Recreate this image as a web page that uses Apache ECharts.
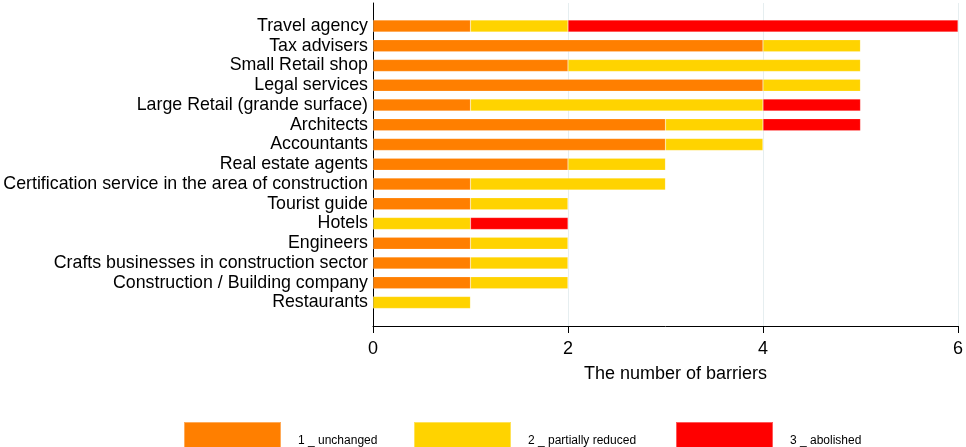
<!DOCTYPE html>
<html>
<head>
<meta charset="utf-8">
<script src="https://cdn.jsdelivr.net/npm/echarts@6/dist/echarts.min.js"></script>
<style>
html,body{margin:0;padding:0;background:#fff;}
#c{width:966px;height:447px;}
</style>
</head>
<body>
<div id="c"></div>
<script>
const categories = ["Travel agency","Tax advisers","Small Retail shop","Legal services","Large Retail (grande surface)","Architects","Accountants","Real estate agents","Certification service in the area of construction","Tourist guide","Hotels","Engineers","Crafts businesses in construction sector","Construction / Building company","Restaurants"];
const unchanged        = [1,4,2,4,1,3,3,2,1,1,0,1,1,1,0];
const partiallyReduced = [1,1,3,1,3,1,1,1,2,1,1,1,1,1,1];
const abolished        = [4,0,0,0,1,1,0,0,0,0,1,0,0,0,0];
const seriesNames = ["1 _ unchanged","2 _ partially reduced","3 _ abolished"];
const xTicks = [0,2,4,6];

const FONT = "Liberation Sans, Arial, sans-serif";
const colors = ["#ff7f00","#ffd300","#ff0000"];
const chart = echarts.init(document.getElementById('c'), null, {renderer:'canvas'});
const mk = (name, data, i) => ({
  name, type:'bar', stack:'s', xAxisIndex:0, yAxisIndex:0, data,
  barWidth:12,
  itemStyle:{color:colors[i], borderColor:'rgba(255,255,255,0.35)', borderWidth:0.5},
  emphasis:{disabled:true}
});
const legendPos = [183, 413, 675];
chart.setOption({
  animation:false,
  textStyle:{fontFamily:FONT},
  grid:[
    {left:373, right:8, top:16.1, height:296.25, containLabel:false},
    {left:373, right:8, top:3, height:323, containLabel:false}
  ],
  xAxis:[
    {gridIndex:0, type:'value', min:0, max:6, interval:2, show:false},
    {gridIndex:1, type:'value', min:xTicks[0], max:xTicks[xTicks.length-1], interval:2,
     axisLine:{show:true, lineStyle:{color:'#000', width:1}},
     axisTick:{show:true, length:7, lineStyle:{color:'#000'}},
     axisLabel:{fontSize:18, color:'#000', margin:14, fontFamily:FONT},
     splitLine:{show:true, lineStyle:{color:'#e6eef0', width:1}},
     name:'The number of barriers', nameLocation:'middle', nameGap:39,
     nameTextStyle:{fontSize:18, color:'#000', fontFamily:FONT, padding:[0,0,0,20]}
    }
  ],
  yAxis:[
    {gridIndex:0, type:'category', data:categories, inverse:true,
     axisLine:{show:false}, axisTick:{show:false},
     axisLabel:{fontSize:17.8, color:'#000', margin:5, interval:0, fontFamily:FONT},
     splitLine:{show:false}
    },
    {gridIndex:1, type:'value', min:0, max:1,
     axisLine:{show:true, lineStyle:{color:'#000', width:1}},
     axisTick:{show:false}, axisLabel:{show:false}, splitLine:{show:false}
    }
  ],
  legend: seriesNames.map((n,i)=>({
    data:[n], left:legendPos[i], top:421, padding:0,
    itemWidth:97, itemHeight:38, icon:'rect', selectedMode:false,
    textStyle:{fontSize:12, color:'#000', fontFamily:FONT, padding:[0,0,0,12]}
  })),
  series:[
    mk(seriesNames[0], unchanged, 0),
    mk(seriesNames[1], partiallyReduced, 1),
    mk(seriesNames[2], abolished, 2)
  ]
});
</script>
</body>
</html>
